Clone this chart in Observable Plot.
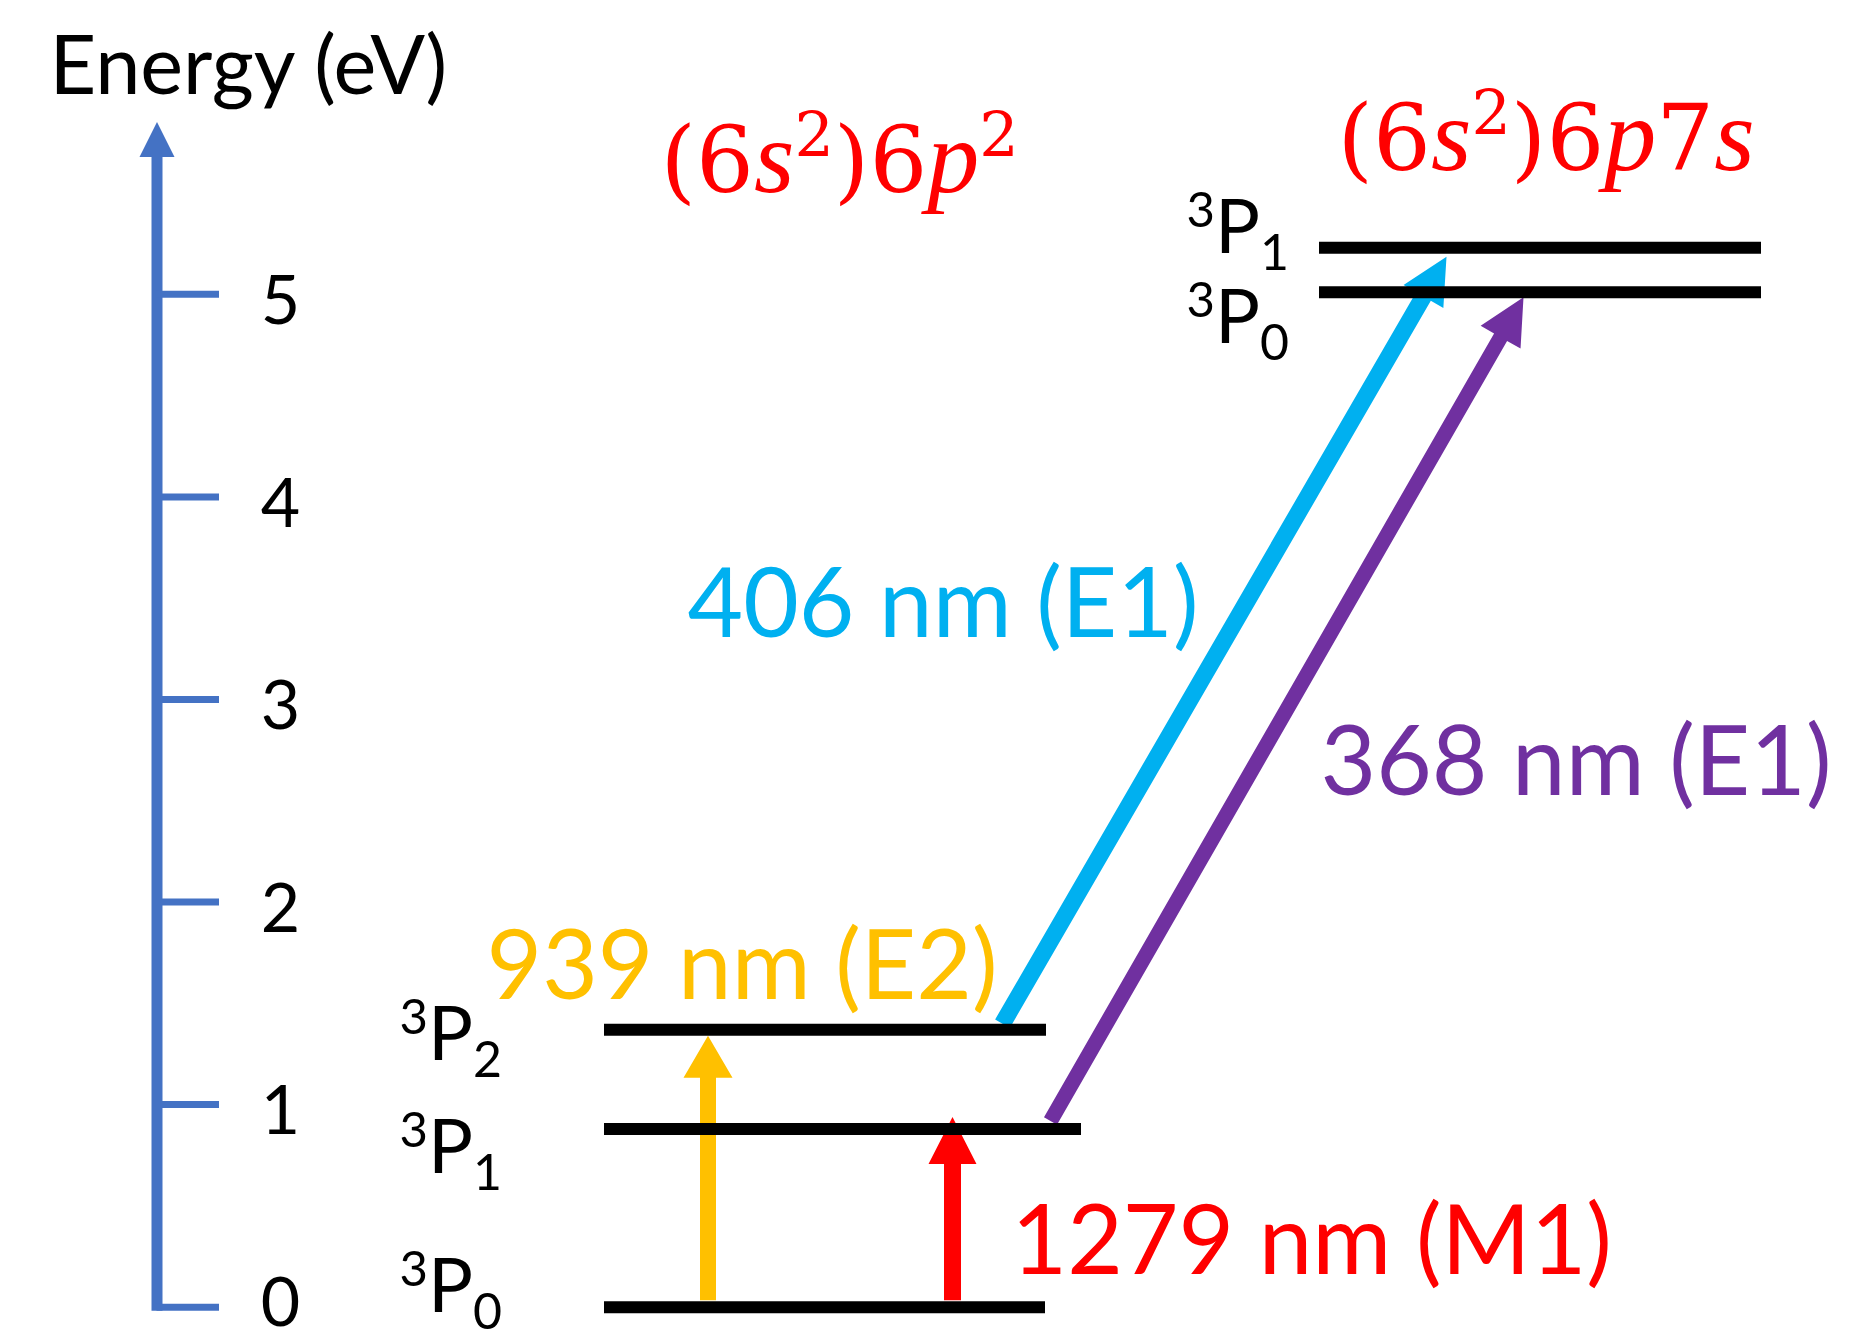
<!DOCTYPE html>
<html><head><meta charset="utf-8">
<script src="https://cdn.jsdelivr.net/npm/d3@7"></script>
<script src="https://cdn.jsdelivr.net/npm/@observablehq/plot@0.6"></script>
<style>html,body{margin:0;padding:0;background:#fff;} svg{display:block;}</style>
</head><body><div id="chart"></div>
<script>
// ---------------- DATA ----------------
const axisLabel = "Energy (eV)";
const energyTicks = [0, 1, 2, 3, 4, 5];
const axisTop = 5.85;
const configurations = ["(6s²)6p²", "(6s²)6p7s"];
const levelTerms = ["³P₀", "³P₁", "³P₂", "³P₀", "³P₁"];
const levelConfig = [0, 0, 0, 1, 1];
const levelEnergy = [0, 0.88, 1.37, 5.01, 5.23];
const transitionLabels = ["939 nm (E2)", "1279 nm (M1)", "406 nm (E1)", "368 nm (E1)"];
const transitionFrom = [0, 0, 2, 1];
const transitionTo = [2, 1, 4, 3];

// ---------------- LAYOUT / STYLE ----------------
const xOpts = {domain: [0, 18.5], range: [0, 1850]};
const yOpts = {domain: [0, 5], range: [1306.7, 293.8]};
const sx = Plot.scale({x: xOpts});
const sy = Plot.scale({y: yOpts});

const axisColor = "#4472C4";
const axisX = 1.565, tickEnd = 2.19, tickLabelX = 2.80;
const tickLabelDy = d => (d === 0 ? -3 : 8);
const levelX = [[6.04, 10.45], [6.04, 10.81], [6.04, 10.46], [13.19, 17.61], [13.19, 17.61]];
const levelLabelX = [3.99, 3.99, 3.99, 11.86, 11.86];
const levelLabelDy = [5, 44, 30, 51, 5];
const configLabelPos = [[6.60, 5.503], [13.37, 5.616]];
const transitionStyle = [
  {color: "#FFC000", x0: 7.075, x1: 7.075, startDy: -7, tipDy: 6, shaft: 16, headW: 49, headL: 42, labelX: 4.86, labelE: 1.523},
  {color: "#FF0000", x0: 9.52, x1: 9.52, startDy: -7, tipDy: -12, shaft: 17, headW: 48, headL: 47, labelX: 10.11, labelE: 0.166},
  {color: "#00B0F0", x0: 10.02, x1: 14.46, startDy: -6, tipDy: 9, shaft: 17, headW: 46, headL: 46, labelX: 6.87, labelE: 3.306},
  {color: "#7030A0", x0: 10.50, x1: 15.23, startDy: -8, tipDy: 5, shaft: 15, headW: 46, headL: 46, labelX: 13.20, labelE: 2.526}
];
const sans = "Lato, 'Open Sans', sans-serif";
const serif = "'DejaVu Serif', serif";

// arrow polygon in data coordinates (computed in pixel space through the scales)
function arrowPolygon(xa, ea, dya, xb, eb, dyb, w, hw, hl) {
  const x0 = sx.apply(xa), y0 = sy.apply(ea) + dya;
  const x1 = sx.apply(xb), y1 = sy.apply(eb) + dyb;
  const dx = x1 - x0, dy = y1 - y0, L = Math.hypot(dx, dy);
  const ux = dx / L, uy = dy / L, nx = -uy, ny = ux;
  const bx = x1 - ux * hl, by = y1 - uy * hl;
  const pts = [
    [x0 + nx * w / 2, y0 + ny * w / 2],
    [bx + nx * w / 2, by + ny * w / 2],
    [bx + nx * hw / 2, by + ny * hw / 2],
    [x1, y1],
    [bx - nx * hw / 2, by - ny * hw / 2],
    [bx - nx * w / 2, by - ny * w / 2],
    [x0 - nx * w / 2, y0 - ny * w / 2]
  ];
  return pts.map(([px, py]) => ({x: sx.invert(px), e: sy.invert(py)}));
}

const levels = levelEnergy.map((e, i) => ({
  energy: e, term: levelTerms[i], config: configurations[levelConfig[i]],
  x1: levelX[i][0], x2: levelX[i][1],
  labelX: levelLabelX[i],
  labelE: sy.invert(sy.apply(e) + levelLabelDy[i])
}));

const transitions = transitionLabels.map((label, i) => {
  const st = transitionStyle[i];
  return {
    label, ...st,
    poly: arrowPolygon(st.x0, levelEnergy[transitionFrom[i]], st.startDy,
                       st.x1, levelEnergy[transitionTo[i]], st.tipDy,
                       st.shaft, st.headW, st.headL)
  };
});

const axisPoly = arrowPolygon(axisX, energyTicks[0], 3.5, axisX, axisTop, 0, 11, 35, 35);

const marks = [
  // energy axis
  Plot.line(axisPoly, {x: "x", y: "e", fill: axisColor, stroke: "none"}),
  Plot.ruleY(energyTicks, {y: d => d, x1: axisX, x2: tickEnd, stroke: axisColor, strokeWidth: 7}),
  Plot.text(energyTicks, {x: tickLabelX, y: d => sy.invert(sy.apply(d) + tickLabelDy(d)), text: d => String(d),
    fontFamily: sans, fontSize: 68, fill: "black", textAnchor: "middle", lineAnchor: "middle"}),
  Plot.text([axisLabel], {x: 0.49, y: 5.991, text: d => d, fontFamily: sans, fontSize: 81,
    fill: "black", textAnchor: "start", lineAnchor: "bottom"}),
  // transition arrows
  ...transitions.map(t => Plot.line(t.poly, {x: "x", y: "e", fill: t.color, stroke: "none"})),
  // levels
  Plot.ruleY(levels, {y: "energy", x1: "x1", x2: "x2", stroke: "black", strokeWidth: 12}),
  Plot.text(levels, {x: "labelX", y: "labelE", text: "term", fontFamily: sans, fontSize: 75,
    fill: "black", textAnchor: "start", lineAnchor: "bottom"}),
  // configuration labels
  Plot.text(configurations, {x: (d, i) => configLabelPos[i][0], y: (d, i) => configLabelPos[i][1], text: d => d,
    fontFamily: serif, fontSize: 91, fill: "#FF0000", textAnchor: "start", lineAnchor: "bottom"}),
  // transition labels
  ...transitions.map(t => Plot.text([t.label], {x: t.labelX, y: t.labelE, text: d => d, fontFamily: sans,
    fontSize: 96, fill: t.color, textAnchor: "start", lineAnchor: "bottom"}))
];

const svg = Plot.plot({
  width: 1850, height: 1340, margin: 0,
  x: {...xOpts, axis: null},
  y: {...yOpts, axis: null},
  style: {background: "white"},
  marks
});

const NS = "http://www.w3.org/2000/svg";
function richify(textEl, o) {
  const s = textEl.textContent;
  textEl.textContent = "";
  const supMap = {"¹": "1", "²": "2", "³": "3"};
  const subMap = {"₀": "0", "₁": "1", "₂": "2"};
  let prev = 0;
  for (const ch of s) {
    let t = ch, shift = 0, size = null, italic = false;
    if (supMap[ch]) { t = supMap[ch]; shift = o.supShift; size = o.supSize; }
    else if (subMap[ch]) { t = subMap[ch]; shift = -o.subShift; size = o.subSize; }
    else if (o.italic && /[a-z]/.test(ch)) italic = true;
    const ts = document.createElementNS(NS, "tspan");
    if (shift !== prev) ts.setAttribute("dy", prev - shift);
    if (size) ts.setAttribute("font-size", size);
    if (italic) {
      ts.setAttribute("font-style", "italic");
      ts.setAttribute("font-family", o.italicFamily);
      ts.setAttribute("font-size", o.italicSize);
    }
    ts.textContent = t;
    textEl.appendChild(ts);
    prev = shift;
  }
}
svg.querySelectorAll("text").forEach(t => {
  const s = t.textContent;
  if (levelTerms.includes(s)) richify(t, {supShift: 26, supSize: 49, subShift: 17, subSize: 50});
  else if (configurations.includes(s)) richify(t, {supShift: 36, supSize: 62, italic: true,
    italicFamily: "'Liberation Serif', serif", italicSize: 104});
});

document.getElementById("chart").appendChild(svg);
</script></body></html>
